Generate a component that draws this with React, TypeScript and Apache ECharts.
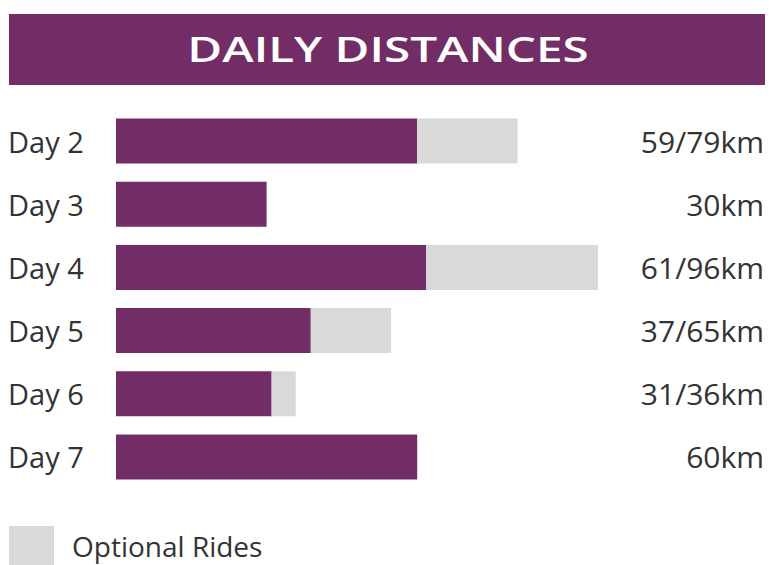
import React, { useEffect, useRef } from "react";
import * as echarts from "echarts";

const days = ["Day 2", "Day 3", "Day 4", "Day 5", "Day 6", "Day 7"];
const mainRide = [60, 30, 61.8, 38.8, 31, 60];
const optionalExtra = [20, 0, 34.2, 16, 4.8, 0];
const distanceLabels = ["59/79km", "30km", "61/96km", "37/65km", "31/36km", "60km"];
const titleText = "DAILY DISTANCES";
const legendName = "Optional Rides";

const PURPLE = "#722C66";
const GRAY = "#D9D9D9";
const TEXT = "#333333";
const FONT = "'Open Sans', Lato, sans-serif";

export default function App() {
  const ref = useRef<HTMLDivElement>(null);
  useEffect(() => {
    const chart = echarts.init(ref.current!, null, { renderer: "svg" });
    chart.setOption({
      animation: false,
      backgroundColor: "#ffffff",
      textStyle: { fontFamily: FONT },
      graphic: [
        {
          type: "rect",
          shape: { x: 9, y: 14, width: 756, height: 71 },
          style: { fill: PURPLE },
        },
        {
          type: "text",
          x: 388,
          y: 48,
          scaleX: 1.36,
          style: {
            text: titleText,
            fill: "#ffffff",
            font: `600 35px 'Open Sans', sans-serif`,
            textAlign: "center",
            textVerticalAlign: "middle",
          },
        },
      ],
      legend: {
        data: [legendName],
        left: 4,
        top: 521,
        itemWidth: 45,
        itemHeight: 39,
        icon: "rect",
        textStyle: {
          color: TEXT,
          fontSize: 28,
          fontFamily: FONT,
          padding: [0, 0, 0, 13],
        },
      },
      grid: { left: 116, top: 109.5, width: 502, height: 379, containLabel: false },
      xAxis: {
        type: "value",
        min: 0,
        max: 100,
        show: false,
      },
      yAxis: [
        {
          type: "category",
          data: days,
          inverse: true,
          axisLine: { show: false },
          axisTick: { show: false },
          splitLine: { show: false },
          axisLabel: { align: "left", margin: 108, color: TEXT, fontSize: 29, fontFamily: FONT },
        },
        {
          type: "category",
          data: distanceLabels,
          inverse: true,
          position: "right",
          axisLine: { show: false },
          axisTick: { show: false },
          splitLine: { show: false },
          axisLabel: { align: "right", margin: 146, color: TEXT, fontSize: 30, fontFamily: FONT },
        },
      ],
      series: [
        {
          name: "Main",
          type: "bar",
          stack: "d",
          data: mainRide,
          barWidth: 45,
          itemStyle: { color: PURPLE },
        },
        {
          name: legendName,
          type: "bar",
          stack: "d",
          data: optionalExtra,
          barWidth: 45,
          itemStyle: { color: GRAY },
        },
      ],
    });
    return () => chart.dispose();
  }, []);
  return (
    <div
      ref={ref}
      style={{ position: "absolute", left: 0, top: 0, width: 769, height: 565 }}
    />
  );
}
